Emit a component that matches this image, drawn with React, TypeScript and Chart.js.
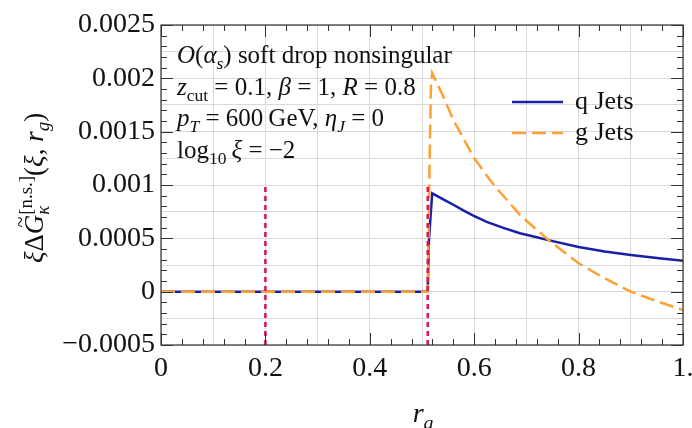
import { useEffect, useRef } from "react";
import { Chart, registerables } from "chart.js";

Chart.register(...registerables);

// ---- data ----
const rgQ = [0, 0.511, 0.5132, 0.5195, 0.5408, 0.56, 0.5791, 0.5983, 0.624, 0.6558, 0.6877, 0.7197, 0.744, 0.8, 0.85, 0.9, 0.95, 1.0];
const qJets = [0, 0, 0.00048, 0.000922, 0.000866, 0.000815, 0.000762, 0.000712, 0.000655, 0.000598, 0.000548, 0.00051, 0.000481, 0.000418, 0.000376, 0.000344, 0.000316, 0.00029];

const rgG = [0, 0.511, 0.5125, 0.514, 0.5172, 0.5195, 0.53, 0.5408, 0.56, 0.58, 0.6, 0.63, 0.65, 0.6877, 0.7, 0.744, 0.8, 0.85, 0.9, 0.95, 1.0];
const gJets = [0, 0, 0.0005, 0.00105, 0.00195, 0.00205, 0.00194, 0.00183, 0.00161, 0.00143, 0.00125, 0.00105, 0.00093, 0.00072, 0.000665, 0.000478, 0.000266, 0.000125, 0, -0.00009, -0.000172];

const rgCuts = [0.2, 0.511];
const cutRange = [-0.0005, 0.001];

const xTickValues = [0, 0.2, 0.4, 0.6, 0.8, 1.0];
const xTickLabels = ["0", "0.2", "0.4", "0.6", "0.8", "1."];
const yTickValues = [-0.0005, 0, 0.0005, 0.001, 0.0015, 0.002, 0.0025];
const yTickLabels = ["\u22120.0005", "0", "0.0005", "0.001", "0.0015", "0.002", "0.0025"];

const seriesLabels = ["q Jets", "g Jets"];

// ---- styles ----
const BLUE = "#1a1fa8";
const ORANGE = "#ffa033";
const RED = "#d2204c";
const GRID = "#d9d9d9";
const FRAME = "#333333";
const FONT = '"Liberation Serif", "DejaVu Serif", serif';

type Piece = { t: string; i?: boolean; pos?: "sub" | "sup"; hold?: boolean; acc?: string };

function rich(ctx: CanvasRenderingContext2D, pieces: Piece[], x: number, y: number, size: number, draw: boolean): number {
  let cx = x;
  let held = 0;
  for (const p of pieces) {
    const fs = p.pos ? size * 0.7 : size;
    const f = `${p.i ? "italic " : ""}${fs}px ${FONT}`;
    ctx.font = f;
    const dy = p.pos === "sub" ? size * 0.24 : p.pos === "sup" ? -size * 0.42 : 0;
    const w = ctx.measureText(p.t).width;
    if (draw) {
      ctx.fillText(p.t, cx, y + dy);
      if (p.acc) {
        ctx.font = `${size * 0.75}px ${FONT}`;
        const aw = ctx.measureText(p.acc).width;
        ctx.fillText(p.acc, cx + w * 0.62 - aw / 2, y - size * 0.6);
        ctx.font = f;
      }
    }
    if (p.hold) {
      held = w;
    } else {
      cx += Math.max(w, held);
      held = 0;
    }
  }
  return cx - x;
}

const annotation: Piece[][] = [
  [{ t: "O", i: true }, { t: "(" }, { t: "\u03b1", i: true }, { t: "s", i: true, pos: "sub" }, { t: ")" }, { t: " soft drop nonsingular" }],
  [{ t: "z", i: true }, { t: "cut", pos: "sub" }, { t: " = 0.1, " }, { t: "\u03b2", i: true }, { t: " = 1, " }, { t: "R", i: true }, { t: " = 0.8" }],
  [{ t: "p", i: true }, { t: "T", i: true, pos: "sub" }, { t: " = 600\u2009GeV, " }, { t: "\u03b7", i: true }, { t: "J", i: true, pos: "sub" }, { t: " = 0" }],
  [{ t: "log" }, { t: "10", pos: "sub" }, { t: "\u2009" }, { t: "\u03be", i: true }, { t: " = \u22122" }],
];

const yTitle: Piece[] = [
  { t: "\u03be", i: true },
  { t: "\u0394" },
  { t: "G", i: true, acc: "~" },
  { t: "\u03ba", i: true, pos: "sub", hold: true },
  { t: "[n.s.]", pos: "sup" },
  { t: "(" },
  { t: "\u03be", i: true },
  { t: ", " },
  { t: "r", i: true },
  { t: "g", i: true, pos: "sub" },
  { t: ")" },
];

const xTitle: Piece[] = [{ t: "r", i: true }, { t: "g", i: true, pos: "sub" }];

const decorPlugin = {
  id: "decor",
  beforeDraw(chart: any) {
    const ctx = chart.ctx as CanvasRenderingContext2D;
    ctx.save();
    ctx.fillStyle = "#ffffff";
    ctx.fillRect(0, 0, chart.width, chart.height);
    ctx.restore();
  },
  afterDraw(chart: any) {
    const ctx = chart.ctx as CanvasRenderingContext2D;
    const a = chart.chartArea;
    const xs = chart.scales.x;
    const ys = chart.scales.y;
    ctx.save();

    // frame
    ctx.strokeStyle = FRAME;
    ctx.lineWidth = 1.2;
    ctx.strokeRect(a.left, a.top, a.right - a.left, a.bottom - a.top);

    // ticks (inward, all four sides)
    ctx.lineWidth = 1;
    ctx.beginPath();
    for (let i = -5; i <= 25; i++) {
      const py = Math.round(ys.getPixelForValue(i * 0.0001)) + 0.5;
      const len = i % 5 === 0 ? 12 : 6;
      ctx.moveTo(a.left, py);
      ctx.lineTo(a.left + len, py);
      ctx.moveTo(a.right, py);
      ctx.lineTo(a.right - len, py);
    }
    for (let i = 0; i <= 25; i++) {
      const px = Math.round(xs.getPixelForValue(i * 0.04)) + 0.5;
      const len = i % 5 === 0 ? 12 : 6;
      ctx.moveTo(px, a.bottom);
      ctx.lineTo(px, a.bottom - len);
      ctx.moveTo(px, a.top);
      ctx.lineTo(px, a.top + len);
    }
    ctx.stroke();

    // annotation
    ctx.fillStyle = "#111111";
    ctx.textBaseline = "alphabetic";
    ctx.textAlign = "left";
    const baselines = [63, 95, 126, 158];
    annotation.forEach((line, k) => rich(ctx, line, a.left + 16, baselines[k], 25, true));

    // legend
    const qDs = chart.data.datasets[chart.data.datasets.length - 1];
    const gDs = chart.data.datasets[chart.data.datasets.length - 2];
    const entries = [
      { ds: qDs, label: seriesLabels[0], y: 102 },
      { ds: gDs, label: seriesLabels[1], y: 133 },
    ];
    for (const e of entries) {
      ctx.save();
      ctx.strokeStyle = e.ds.borderColor;
      ctx.lineWidth = e.ds.borderWidth;
      ctx.setLineDash(e.ds.borderDash || []);
      ctx.beginPath();
      ctx.moveTo(512, e.y);
      ctx.lineTo(563, e.y);
      ctx.stroke();
      ctx.restore();
      ctx.fillStyle = "#111111";
      ctx.font = `26px ${FONT}`;
      ctx.fillText(e.label, 575, e.y + 7);
    }

    // x title
    const xw = rich(ctx, xTitle, 0, 0, 28, false);
    rich(ctx, xTitle, (a.left + a.right) / 2 - xw / 2 + 1, 422, 28, true);

    // y title (rotated)
    ctx.save();
    ctx.translate(43, (a.top + a.bottom) / 2 + 3);
    ctx.rotate(-Math.PI / 2);
    const yw = rich(ctx, yTitle, 0, 0, 27, false);
    rich(ctx, yTitle, -yw / 2, 0, 27, true);
    ctx.restore();

    ctx.restore();
  },
};

export default function App() {
  const ref = useRef<HTMLCanvasElement | null>(null);

  useEffect(() => {
    document.body.style.margin = "0";
    const canvas = ref.current;
    if (!canvas) return;

    const cutSets = rgCuts.map((r) => ({
      label: "cut",
      data: cutRange.map((y) => ({ x: r, y })),
      showLine: true,
      borderColor: RED,
      borderWidth: 2.6,
      borderDash: [5, 4],
      pointRadius: 0,
      order: 0,
    }));

    const chart = new Chart(canvas, {
      type: "scatter",
      data: {
        datasets: [
          ...cutSets,
          {
            label: seriesLabels[1],
            data: rgG.map((x, k) => ({ x, y: gJets[k] })),
            showLine: true,
            borderColor: ORANGE,
            borderWidth: 2.5,
            borderDash: [14, 6],
            pointRadius: 0,
            tension: 0,
            order: 1,
          },
          {
            label: seriesLabels[0],
            data: rgQ.map((x, k) => ({ x, y: qJets[k] })),
            showLine: true,
            borderColor: BLUE,
            borderWidth: 2.5,
            pointRadius: 0,
            tension: 0,
            order: 2,
          },
        ] as any,
      },
      options: {
        animation: false,
        responsive: true,
        maintainAspectRatio: false,
        events: [],
        layout: { padding: { top: 25, right: 9, left: 0, bottom: 0 } },
        plugins: { legend: { display: false }, tooltip: { enabled: false } },
        scales: {
          x: {
            type: "linear",
            min: 0,
            max: 1,
            afterFit: (s: any) => {
              s.height = 83;
              s.paddingRight = 0;
              s.paddingLeft = 0;
            },
            border: { display: false },
            grid: { color: GRID, lineWidth: 1, drawTicks: false },
            ticks: {
              stepSize: 0.1,
              autoSkip: false,
              maxRotation: 0,
              padding: 7,
              color: "#111111",
              font: { family: FONT, size: 28 },
              callback: (v: any) => {
                const k = xTickValues.findIndex((t) => Math.abs(t - Number(v)) < 1e-9);
                return k >= 0 ? xTickLabels[k] : "";
              },
            },
          },
          y: {
            type: "linear",
            min: -0.0005,
            max: 0.0025,
            afterFit: (s: any) => {
              s.width = 161;
            },
            border: { display: false },
            grid: { color: GRID, lineWidth: 1, drawTicks: false },
            ticks: {
              stepSize: 0.00025,
              autoSkip: false,
              padding: 6,
              color: "#111111",
              font: { family: FONT, size: 28 },
              callback: (v: any) => {
                const k = yTickValues.findIndex((t) => Math.abs(t - Number(v)) < 1e-9);
                return k >= 0 ? yTickLabels[k] : "";
              },
            },
          },
        },
      },
      plugins: [decorPlugin],
    } as any);

    return () => chart.destroy();
  }, []);

  return (
    <div style={{ width: 692, height: 428, position: "relative" }}>
      <canvas ref={ref} width={692} height={428} />
    </div>
  );
}
